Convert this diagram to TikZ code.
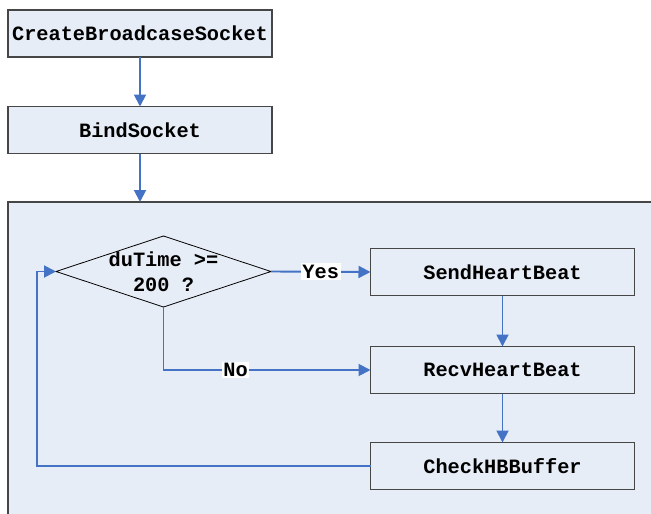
\documentclass[tikz,border=0pt]{standalone}
\usepackage{fontspec}
\setmonofont{Liberation Mono}
\usetikzlibrary{arrows.meta,shapes.geometric}
\definecolor{boxfill}{RGB}{231,237,247}
\definecolor{boxline}{RGB}{70,70,70}
\definecolor{flow}{RGB}{68,114,196}
\tikzset{
  lbl/.style={font=\fontsize{20.3}{25}\ttfamily\bfseries},
  stepbox/.style={lbl, draw=boxline, line width=1.2pt, fill=boxfill,
    minimum width=264pt, minimum height=47pt, inner sep=0pt, outer sep=0pt},
  group/.style={draw=boxline, line width=1.2pt, fill=boxfill,
    minimum width=652pt, minimum height=318pt, inner sep=0pt, outer sep=0pt},
  decision/.style={diamond, draw=black, line width=0.8pt, fill=boxfill,
    minimum width=215pt, minimum height=71pt, inner sep=0pt, outer sep=0pt},
  arr/.style={draw=flow, line width=1.9pt,
    -{Triangle[length=12pt,width=12pt]}},
  tag/.style={lbl, fill=white, inner sep=1.5pt}
}
\begin{document}
\begin{tikzpicture}[x=1pt,y=-1pt]
  \useasboundingbox (0,0) rectangle (651,514);
  \clip (0,0) rectangle (651,514);
  % upper set-up steps
  \node[stepbox] (create) at (140,33.5) {CreateBroadcaseSocket};
  \node[stepbox] (bind) at (140,130) {BindSocket};
  % heartbeat loop frame
  \node[group] (frame) at (334,361) {};
  \node[decision] (dec) at (163.5,271.5) {};
  \node[lbl, align=center] (dectext) at (dec.center) {duTime >=\\200 ?};
  \node[stepbox] (send) at (502.5,272) {SendHeartBeat};
  \node[stepbox] (recv) at (502.5,370) {RecvHeartBeat};
  \node[stepbox] (check) at (502.5,466) {CheckHBBuffer};
  % connectors
  \draw[arr] (create) -- (bind);
  \draw[arr] (bind.south) -- (bind.south |- frame.north);
  \draw[arr] (dec.east) -- node[tag] {Yes} (send.west);
  \draw[arr] (dec.south) |- node[tag, pos=0.674] {No} (recv.west);
  \draw[arr] (send) -- (recv);
  \draw[arr] (recv) -- (check);
  \draw[arr] (check.west) -| ([xshift=-19pt]dec.west) -- (dec.west);
\end{tikzpicture}
\end{document}
